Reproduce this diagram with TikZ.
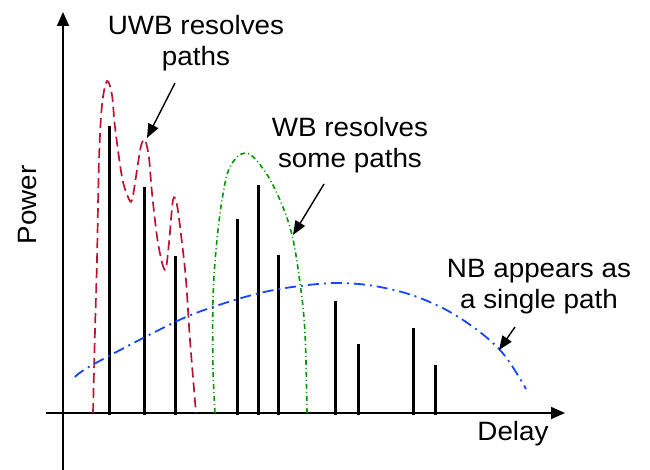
\documentclass[tikz,border=0pt]{standalone}
\usepackage{fontspec}
\setmainfont{Liberation Sans}[FakeStretch=1.05]
\usetikzlibrary{arrows.meta}
\definecolor{uwbred}{RGB}{185,20,50}
\definecolor{wbgreen}{RGB}{0,150,0}
\definecolor{nbblue}{RGB}{20,70,255}
\tikzset{
  axisline/.style={line width=1.8pt,-{Triangle[length=14pt,width=12pt]}},
  spike/.style={line width=3pt},
  uwbcurve/.style={uwbred,line width=1.7pt,dash pattern=on 10pt off 5pt},
  wbcurve/.style={wbgreen,line width=1.6pt,dash pattern=on 5pt off 3pt on 1pt off 3pt},
  nbcurve/.style={nbblue,line width=1.8pt,dash pattern=on 11pt off 5pt on 2pt off 5pt},
  lbl/.style={font=\fontsize{26.5}{31}\selectfont,align=center,inner sep=0pt},
  pointer/.style={line width=1.4pt,-{Triangle[length=14pt,width=11pt]}}
}
\begin{document}
\begin{tikzpicture}[x=1pt,y=-1pt]
\useasboundingbox (0,0) rectangle (650,470);
% axes
\coordinate (xs) at (46,413);
\coordinate (xe) at (565,413);
\coordinate (ys) at (63,470);
\coordinate (ye) at (63,12);
\draw[axisline] (xs) -- (xe);
\draw[axisline] (ys) -- (ye);
% spikes
\foreach \x/\t in {109/126,144/187,175/256,237/219,258/185,278/255,335/301,358/344,413/328,435/365}
  \draw[spike] (\x,415) -- (\x,\t);
% UWB curve
\draw[uwbcurve] plot[smooth,tension=0.55] coordinates {
 (93,413) (95,330) (97,260) (99,160) (102,105) (107,81) (112,95) (115,127) (122,177) (128,197) (132,200)
 (137,170) (141,146) (145,140) (149,158) (152,193) (158,243) (165,270) (169,243) (173,200) (177,205)
 (182,243) (186,280) (190,340) (196,413)};
% WB curve
\draw[wbcurve] plot[smooth,tension=0.6] coordinates {
 (215,413) (213,367) (213,300) (216,250) (222,200) (230,167) (246,153) (264,170)
 (280,200) (292,235) (300,283) (305,333) (307,413)};
% NB curve
\draw[nbcurve] plot[smooth,tension=0.6] coordinates {
 (75,377) (94,364) (173,323) (213,307) (260,293) (300,286) (340,283) (380,287) (420,298) (460,318) (500,350) (526,389)};
% labels
\node[lbl] (uwb) at (196,43) {UWB resolves\\paths};
\node[lbl] (wb) at (350,145) {WB resolves\\some paths};
\node[lbl] (nb) at (539,287) {NB appears as\\a single path};
\node[lbl,rotate=90] (power) at (28,205) {Power};
\node[lbl] (delay) at (513,434) {Delay};
% pointers
\coordinate (uwbs) at (175,83);
\coordinate (uwbt) at (147,138);
\coordinate (wbs) at (324,184);
\coordinate (wbt) at (293,235);
\coordinate (nbs) at (515,327);
\coordinate (nbt) at (499,350);
\draw[pointer] (uwbs) -- (uwbt);
\draw[pointer] (wbs) -- (wbt);
\draw[pointer] (nbs) -- (nbt);
\end{tikzpicture}
\end{document}
